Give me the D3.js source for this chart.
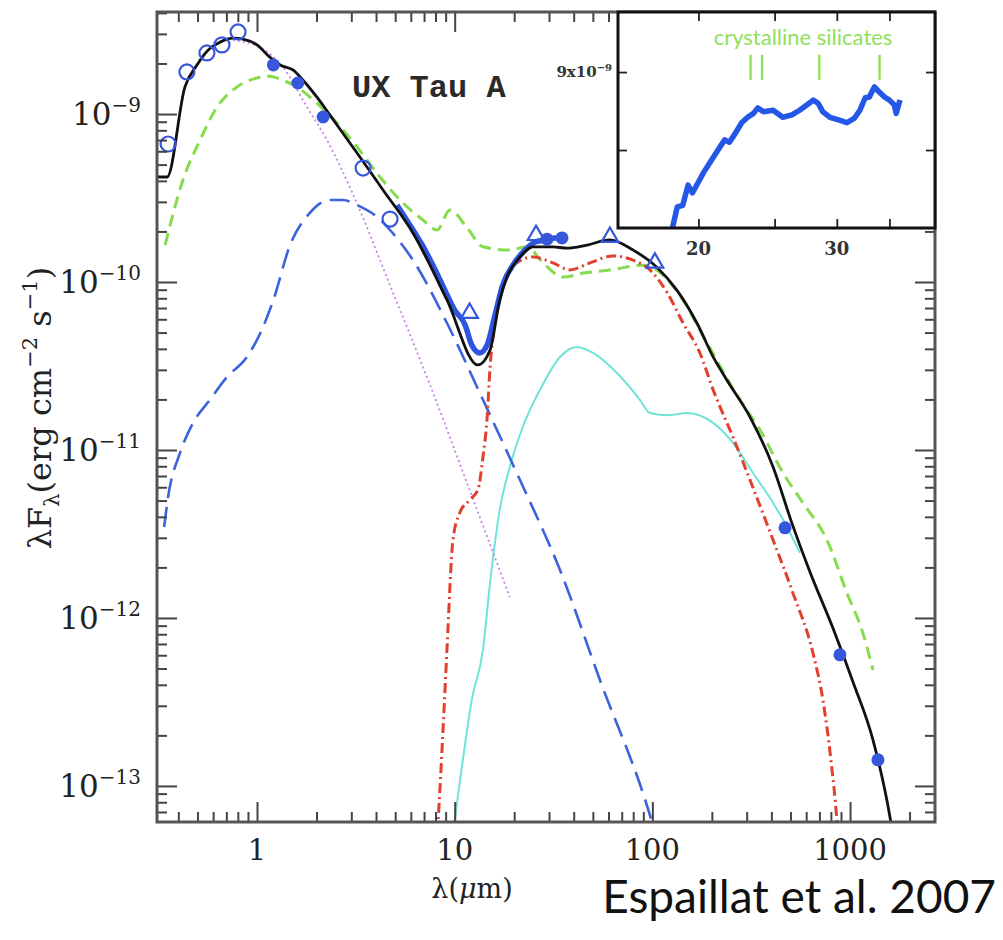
<!DOCTYPE html>
<html><head><meta charset="utf-8">
<script src="https://cdn.jsdelivr.net/npm/d3@7"></script>
<style>body{margin:0;background:#fff}</style>
</head><body>
<svg id="c" width="1003" height="940"></svg>
<script>
// ---------- data (wavelength in micron, lambda*F_lambda in erg cm^-2 s^-1) ----------
const totalModel = [[0.312,4.22e-10],[0.351,4.22e-10],[0.432,1.45e-9],[0.497,1.96e-9],[0.565,2.40e-9],[0.650,2.68e-9],[0.756,2.83e-9],[0.849,2.79e-9],[1.0,2.58e-9],[1.16,2.18e-9],[1.31,1.96e-9],[1.52,1.83e-9],[1.71,1.59e-9],[2.01,1.26e-9],[2.34,9.86e-10],[2.95,6.72e-10],[3.60,4.84e-10],[4.34,3.53e-10],[6.15,1.96e-10],[9.14,7.82e-11],[13.1,3.21e-11],[15.1,3.94e-11],[16.9,7.82e-11],[18.4,1.07e-10],[21.4,1.41e-10],[24.9,1.62e-10],[31.4,1.62e-10],[37.0,1.59e-10],[46.7,1.66e-10],[61.0,1.78e-10],[79.8,1.55e-10],[105,1.23e-10],[133,8.95e-11],[168,5.70e-11],[203,3.58e-11],[238,2.61e-11],[312,1.57e-11],[408,7.92e-12],[508,3.67e-12],[627,1.88e-12],[819,8.71e-13],[1035,4.16e-13],[1306,1.88e-13],[1592,6.53e-14],[1700,4.0e-14]];
const innerDisk = [[0.339,3.48e-12],[0.355,5.25e-12],[0.408,9.6e-12],[0.475,1.45e-11],[0.578,1.99e-11],[0.705,2.72e-11],[0.889,3.58e-11],[1.04,4.97e-11],[1.21,7.82e-11],[1.47,1.66e-10],[1.85,2.58e-10],[2.34,3.08e-10],[2.72,3.08e-10],[3.21,2.87e-10],[4.05,2.44e-10],[4.71,2.04e-10],[6.15,1.35e-10],[9.14,5.70e-11],[13.9,1.99e-11],[21.4,6.62e-12],[34.1,1.93e-12],[54.3,4.27e-13],[99.5,6.1e-14],[110,4.0e-14]];
const photosphere = [[0.756,2.75e-9],[1.0,2.54e-9],[1.35,1.91e-9],[1.79,1.10e-9],[2.26,7.0e-10],[2.95,3.67e-10],[4.88,8.61e-11],[7.50,2.44e-11],[11.9,5.78e-12],[19.0,1.33e-12]];
const outerWall = [[8.0,4.0e-14],[8.23,6.1e-14],[8.73,2.15e-13],[9.14,6.45e-13],[9.80,2.91e-12],[10.6,4.22e-12],[11.9,5.04e-12],[13.1,5.78e-12],[13.9,9.08e-12],[14.6,1.57e-11],[15.1,3.12e-11],[16.0,5.70e-11],[16.9,8.37e-11],[18.4,1.10e-10],[20.6,1.30e-10],[24.9,1.41e-10],[31.4,1.30e-10],[38.3,1.18e-10],[48.3,1.30e-10],[63.2,1.43e-10],[79.8,1.35e-10],[97.2,1.18e-10],[119,8.61e-11],[143,5.70e-11],[174,3.78e-11],[203,2.28e-11],[256,1.19e-11],[312,6.62e-12],[408,2.91e-12],[514,1.41e-12],[649,6.19e-13],[729,3.25e-13],[800,1.43e-13],[859,6.1e-14],[880,4.0e-14]];
const outerDisk = [[9.6,4.0e-14],[10.0,6.1e-14],[11.0,1.43e-13],[12.2,3.25e-13],[13.9,6.45e-13],[15.1,1.62e-12],[16.9,4.40e-12],[19.0,7.92e-12],[22.1,1.37e-11],[27.0,2.28e-11],[34.1,3.58e-11],[41.6,4.10e-11],[50.1,3.78e-11],[66.2,2.87e-11],[86.5,1.99e-11],[97.2,1.66e-11],[120,1.61e-11],[150,1.66e-11],[203,1.45e-11],[256,1.10e-11],[323,7.30e-12],[408,4.84e-12],[480,3.48e-12],[558,2.44e-12]];
const fullDisk = [[0.343,1.66e-10],[0.422,4.05e-10],[0.515,7.0e-10],[0.628,1.10e-9],[0.792,1.45e-9],[1.0,1.64e-9],[1.16,1.68e-9],[1.35,1.59e-9],[1.59,1.45e-9],[2.01,1.16e-9],[2.54,8.83e-10],[3.21,6.37e-10],[4.19,4.22e-10],[5.48,2.95e-10],[6.91,2.34e-10],[8.13,2.04e-10],[9.47,2.68e-10],[11.5,2.12e-10],[13.9,1.62e-10],[19.0,1.55e-10],[23.2,1.62e-10],[28.0,1.30e-10],[35.3,1.07e-10],[44.6,1.13e-10],[61.0,1.18e-10],[89.6,1.26e-10],[143,7.82e-11],[174,5.18e-11],[277,1.99e-11],[350,1.32e-11],[458,7.30e-12],[578,4.84e-12],[764,2.91e-12],[964,1.41e-12],[1161,8.14e-13],[1306,4.90e-13]];
const irsSpectrum = [[5.11,2.87e-10],[5.94,2.18e-10],[7.08,1.55e-10],[8.43,1.03e-10],[10.0,6.81e-11],[11.3,5.54e-11],[12.2,4.22e-11],[13.4,3.78e-11],[14.6,4.22e-11],[16.0,6.37e-11],[17.5,9.6e-11],[19.7,1.26e-10],[22.7,1.55e-10],[25.5,1.73e-10],[28.6,1.78e-10],[32.2,1.83e-10],[36.1,1.78e-10]];
const openCircles = [[0.355,6.63e-10],[0.442,1.78e-9],[0.558,2.31e-9],[0.665,2.58e-9],[0.802,3.08e-9],[3.44,4.77e-10],[4.71,2.37e-10]];
const filledCircles = [[1.21,1.96e-9],[1.61,1.53e-9],[2.16,9.6e-10],[29.3,1.80e-10],[34.9,1.83e-10],[469,3.44e-12],[889,6.03e-13],[1384,1.43e-13]];
const triangles = [[11.9,6.53e-11],[25.8,1.90e-10],[61.0,1.85e-10],[103,1.30e-10]];

const xTickValues = [1, 10, 100, 1000];
const xTickLabels = ["1", "10", "100", "1000"];
const yTickValues = [1e-13, 1e-12, 1e-11, 1e-10, 1e-9];
const yTickExponents = ["\u221213", "\u221212", "\u221211", "\u221210", "\u22129"];

// inset: Spitzer IRS spectrum
const insetLam = [18.5,18.8,19.1,19.4,19.65,20.0,20.3,20.6,20.9,21.3,21.6,21.9,22.3,22.7,23.1,23.5,23.8,24.2,24.9,25.6,26.3,26.9,27.5,28.0,28.4,28.8,29.4,30.3,30.9,31.6,32.1,32.6,33.0,33.5,34.0,34.5,35.0,35.5,35.7,36.1];
const insetFlux = [6.97,7.27,7.29,7.55,7.45,7.59,7.71,7.81,7.91,8.04,8.13,8.10,8.22,8.35,8.42,8.47,8.54,8.49,8.51,8.42,8.45,8.51,8.58,8.64,8.60,8.49,8.42,8.38,8.35,8.41,8.51,8.67,8.68,8.81,8.74,8.68,8.64,8.58,8.47,8.64];
const silicateFeatures = [23.3, 24.1, 28.5, 34.0];
const insetXTicks = [20, 25, 30, 35];
const insetXLabels = ["20", "30"];
const insetYTicks = [8, 9];

// ---------- layout ----------
const svg = d3.select("#c");
const L = 157, R = 935, T = 12, B = 822;
const x = d3.scaleLog().domain([0.312, 2690]).range([L, R]);
const y = d3.scaleLog().domain([6.1e-14, 4.05e-9]).range([B, T]);

function minorTicks(scale) {
  const [a, b] = scale.domain();
  const out = [];
  for (let e = Math.floor(Math.log10(a)); e <= Math.ceil(Math.log10(b)); e++) {
    for (let m = 2; m <= 9; m++) { const v = m * Math.pow(10, e); if (v > a && v < b) out.push(v); }
  }
  return out;
}
const xMinor = minorTicks(x), yMinor = minorTicks(y);

svg.append("defs").append("clipPath").attr("id", "pc")
  .append("rect").attr("x", L).attr("y", T).attr("width", R - L).attr("height", B - T);

const plot = svg.append("g").attr("clip-path", "url(#pc)");
const line = d3.line().x(d => x(d[0])).y(d => y(d[1])).curve(d3.curveMonotoneX);

function drawLine(data, color, width, dash) {
  plot.append("path").datum(data).attr("d", line)
    .attr("fill", "none").attr("stroke", color).attr("stroke-width", width)
    .attr("stroke-dasharray", dash || null).attr("stroke-linejoin", "round");
}
drawLine(outerDisk, "#6fe3d6", 2);
drawLine(photosphere, "#c97fe6", 1.8, "2,3");
drawLine(innerDisk, "#3d62dc", 2.6, "20,9");
drawLine(fullDisk, "#86dc4e", 3, "12,7");
drawLine(outerWall, "#e2402f", 3, "10,4,2,4");
drawLine(irsSpectrum, "#2e55e0", 5.5);
drawLine(totalModel, "#111", 2.8);

const markColor = "#3657dc";
plot.selectAll(".oc").data(openCircles).join("circle")
  .attr("cx", d => x(d[0])).attr("cy", d => y(d[1])).attr("r", 7.5)
  .attr("fill", "none").attr("stroke", markColor).attr("stroke-width", 2.2);
plot.selectAll(".fc").data(filledCircles).join("circle")
  .attr("cx", d => x(d[0])).attr("cy", d => y(d[1])).attr("r", 6.5)
  .attr("fill", markColor);
const tri = d3.symbol().type(d3.symbolTriangle).size(120);
plot.selectAll(".tr").data(triangles).join("path")
  .attr("transform", d => `translate(${x(d[0])},${y(d[1])})`)
  .attr("d", tri).attr("fill", "none").attr("stroke", markColor).attr("stroke-width", 2.2);

// ---------- axes ----------
function styleAxis(g) {
  g.select(".domain").remove();
  g.selectAll(".tick line").attr("stroke", "#444").attr("stroke-width", 2);
  g.selectAll(".tick text").remove();
}
[[d3.axisBottom, B], [d3.axisTop, T]].forEach(([ax, pos]) => {
  svg.append("g").attr("transform", `translate(0,${pos})`)
    .call(ax(x).tickValues(xTickValues).tickSize(-20).tickFormat("")).call(styleAxis);
  svg.append("g").attr("transform", `translate(0,${pos})`)
    .call(ax(x).tickValues(xMinor).tickSize(-10).tickFormat("")).call(styleAxis);
});
[[d3.axisLeft, L], [d3.axisRight, R]].forEach(([ax, pos]) => {
  svg.append("g").attr("transform", `translate(${pos},0)`)
    .call(ax(y).tickValues(yTickValues).tickSize(-20).tickFormat("")).call(styleAxis);
  svg.append("g").attr("transform", `translate(${pos},0)`)
    .call(ax(y).tickValues(yMinor).tickSize(-10).tickFormat("")).call(styleAxis);
});
svg.append("rect").attr("x", L).attr("y", T).attr("width", R - L).attr("height", B - T)
  .attr("fill", "none").attr("stroke", "#555").attr("stroke-width", 3);

const serif = "DejaVu Serif";
xTickValues.forEach((v, i) => {
  svg.append("text").attr("x", x(v)).attr("y", 860).attr("text-anchor", "middle")
    .attr("font-family", serif).attr("font-size", 29).attr("fill", "#222").text(xTickLabels[i]);
});
yTickValues.forEach((v, i) => {
  const t = svg.append("text").attr("x", 141).attr("y", y(v) + 11).attr("text-anchor", "end")
    .attr("font-family", serif).attr("font-size", 31).attr("fill", "#222");
  t.append("tspan").text("10");
  t.append("tspan").attr("dy", -13).attr("font-size", 20).text(yTickExponents[i]);
});

// axis titles
const yl = svg.append("text").attr("transform", "translate(51,408) rotate(-90)")
  .attr("text-anchor", "middle").attr("font-family", serif).attr("font-size", 32).attr("fill", "#222");
yl.append("tspan").text("\u03bbF");
yl.append("tspan").attr("dy", 8).attr("font-size", 21).text("\u03bb");
yl.append("tspan").attr("dy", -8).text("(erg cm");
yl.append("tspan").attr("dy", -14).attr("font-size", 21).text("\u22122");
yl.append("tspan").attr("dy", 14).text(" s");
yl.append("tspan").attr("dy", -14).attr("font-size", 21).text("\u22121");
yl.append("tspan").attr("dy", 14).text(")");

const xl = svg.append("text").attr("x", 472).attr("y", 898).attr("text-anchor", "middle")
  .attr("font-family", serif).attr("font-size", 27).attr("fill", "#222");
xl.append("tspan").text("\u03bb(");
xl.append("tspan").attr("font-style", "italic").text("\u03bc");
xl.append("tspan").text("m)");

svg.append("text").attr("x", 996).attr("y", 913).attr("text-anchor", "end")
  .attr("font-family", "Lato").attr("font-size", 46).attr("fill", "#111").text("Espaillat et al. 2007");

svg.append("text").attr("x", 352).attr("y", 97).attr("font-family", "Liberation Mono")
  .attr("font-weight", "bold").attr("font-size", 32).attr("fill", "#2a2a2a").text("UX Tau A");

// ---------- inset ----------
const iL = 618, iR = 935, iT = 12, iB = 228;
const ix = d3.scaleLog().domain([15.8, 40]).range([iL, iR]);
const iy = d3.scaleLinear().domain([7.0, 9.77]).range([iB, iT]);
svg.append("rect").attr("x", iL).attr("y", iT).attr("width", iR - iL).attr("height", iB - iT).attr("fill", "#fff");
svg.append("defs").append("clipPath").attr("id", "ic")
  .append("rect").attr("x", iL).attr("y", iT).attr("width", iR - iL).attr("height", iB - iT);
const ig = svg.append("g").attr("clip-path", "url(#ic)");
const insetData = insetLam.map((l, i) => [l, insetFlux[i]]);
ig.append("path").datum(insetData)
  .attr("d", d3.line().x(d => ix(d[0])).y(d => iy(d[1])))
  .attr("fill", "none").attr("stroke", "#2457e8").attr("stroke-width", 5.5).attr("stroke-linejoin", "round");
silicateFeatures.forEach(l => {
  ig.append("line").attr("x1", ix(l)).attr("x2", ix(l)).attr("y1", iy(8.90)).attr("y2", iy(9.22))
    .attr("stroke", "#8fe05a").attr("stroke-width", 2.4);
});
ig.append("text").attr("x", 803).attr("y", 45).attr("text-anchor", "middle")
  .attr("font-family", "Lato").attr("font-size", 22).attr("fill", "#8fe05a").text("crystalline silicates");

function styleInset(g) {
  g.select(".domain").remove();
  g.selectAll(".tick line").attr("stroke", "#222").attr("stroke-width", 1.8);
  g.selectAll(".tick text").remove();
}
svg.append("g").attr("transform", `translate(0,${iB})`).call(d3.axisBottom(ix).tickValues(insetXTicks).tickSize(-9).tickFormat("")).call(styleInset);
svg.append("g").attr("transform", `translate(0,${iT})`).call(d3.axisTop(ix).tickValues(insetXTicks).tickSize(-9).tickFormat("")).call(styleInset);
svg.append("g").attr("transform", `translate(${iL},0)`).call(d3.axisLeft(iy).tickValues(insetYTicks).tickSize(-9).tickFormat("")).call(styleInset);
svg.append("g").attr("transform", `translate(${iR},0)`).call(d3.axisRight(iy).tickValues(insetYTicks).tickSize(-9).tickFormat("")).call(styleInset);
svg.append("rect").attr("x", iL).attr("y", iT).attr("width", iR - iL).attr("height", iB - iT)
  .attr("fill", "none").attr("stroke", "#111").attr("stroke-width", 3);

[20, 30].forEach((v, i) => {
  svg.append("text").attr("x", ix(v)).attr("y", 255).attr("text-anchor", "middle")
    .attr("font-family", serif).attr("font-weight", "bold").attr("font-size", 18).attr("fill", "#333").text(insetXLabels[i]);
});
const il = svg.append("text").attr("x", 612).attr("y", iy(9) + 5).attr("text-anchor", "end")
  .attr("font-family", serif).attr("font-weight", "bold").attr("font-size", 15).attr("fill", "#333");
il.append("tspan").text("9x10");
il.append("tspan").attr("dy", -6).attr("font-size", 10).text("\u22129");
</script>
</body></html>
